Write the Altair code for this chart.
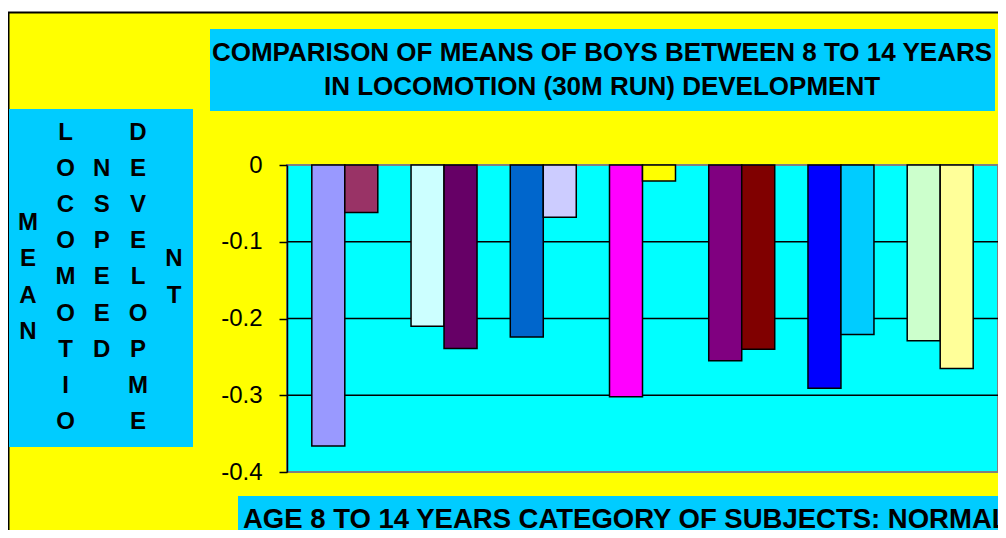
import altair as alt
import pandas as pd

# ---- data ----
ages = ["8", "9", "10", "11", "12", "13", "14"]
series = ["Series 1", "Series 2"]
values_s1 = [-0.366, -0.210, -0.224, -0.302, -0.255, -0.291, -0.229]
values_s2 = [-0.062, -0.239, -0.068, -0.021, -0.240, -0.221, -0.265]
colors_s1 = ["#9999FF", "#CCFFFF", "#0066CC", "#FF00FF", "#800080", "#0000FF", "#CCFFCC"]
colors_s2 = ["#993366", "#660066", "#CCCCFF", "#FFFF00", "#800000", "#00CCFF", "#FFFF99"]
tick_values = [0, -0.1, -0.2, -0.3, -0.4]
grid_values = [-0.1, -0.2, -0.3]

title_lines = ["COMPARISON OF MEANS OF BOYS BETWEEN 8 TO 14 YEARS",
               "IN LOCOMOTION (30M RUN) DEVELOPMENT"]
y_label_columns = ["MEAN", "LOCOMOTIO", "N SPEED", "DEVELOPME", "NT"]
x_label = "AGE 8 TO 14 YEARS CATEGORY OF SUBJECTS: NORMAL"

rows = []
bar_ids, bar_colors = [], []
for i, a in enumerate(ages):
    for s, vals, cols in ((series[0], values_s1, colors_s1), (series[1], values_s2, colors_s2)):
        bid = f"{a}-{s}"
        rows.append({"age": a, "series": s, "value": vals[i], "bar": bid})
        bar_ids.append(bid)
        bar_colors.append(cols[i])
df = pd.DataFrame(rows)
grid_df = pd.DataFrame({"g": grid_values})
one = pd.DataFrame({"k": [0]})

W, H = 711, 307
PL, PT, PR, PB = 279, 157, 0, 58
FONT = "Liberation Sans"

yscale = alt.Scale(domain=[-0.4, 0], nice=False)

deco = alt.Chart(one)

white_strip = deco.mark_rect(color="white").encode(
    x=alt.value(-PL), x2=alt.value(W + PR), y=alt.value(-PT), y2=alt.value(-153))
top_border = deco.mark_rule(color="black", strokeWidth=2).encode(
    x=alt.value(-PL), x2=alt.value(W + PR), y=alt.value(-152.5))
left_border = deco.mark_rule(color="black", strokeWidth=2).encode(
    x=alt.value(-278.5), y=alt.value(-153), y2=alt.value(H + PB))

title_box = deco.mark_rect(color="#00CCFF").encode(
    x=alt.value(-77), x2=alt.value(708), y=alt.value(-136), y2=alt.value(-54))
title1 = deco.mark_text(text=title_lines[0], font=FONT, fontWeight="bold", fontSize=26,
                        align="center", baseline="alphabetic", color="black").encode(
    x=alt.value(315), y=alt.value(-104))
title2 = deco.mark_text(text=title_lines[1], font=FONT, fontWeight="bold", fontSize=26,
                        align="center", baseline="alphabetic", color="black").encode(
    x=alt.value(315), y=alt.value(-70))

ylab_box = deco.mark_rect(color="#00CCFF").encode(
    x=alt.value(-278), x2=alt.value(-94), y=alt.value(-56), y2=alt.value(282))
col_x = [-259, -221.5, -185.3, -149, -113]
LH = 36.2
center_y = 112.5
ylab_texts = []
for cx, word in zip(col_x, y_label_columns):
    n = len(word)
    first_y = center_y - (n - 1) / 2 * LH
    ylab_texts.append(
        deco.mark_text(text="\n".join(word), lineBreak="\n", lineHeight=LH, font=FONT,
                       fontWeight="bold", fontSize=24, align="center", baseline="middle",
                       color="black").encode(x=alt.value(cx), y=alt.value(first_y)))

xlab_box = deco.mark_rect(color="#00CCFF").encode(
    x=alt.value(-49), x2=alt.value(W + PR), y=alt.value(331), y2=alt.value(H + PB))
xlab_text = deco.mark_text(text=x_label, font=FONT, fontWeight="bold", fontSize=27.5,
                           align="left", baseline="alphabetic", color="black").encode(
    x=alt.value(-44), y=alt.value(363))

grid = alt.Chart(grid_df).mark_rule(color="black", strokeWidth=1.5).encode(
    y=alt.Y("g:Q", scale=yscale))

bars = alt.Chart(df).mark_bar(stroke="black", strokeWidth=1.5).encode(
    x=alt.X("age:N", sort=ages, axis=None,
            scale=alt.Scale(paddingInner=0.335, paddingOuter=0.25)),
    xOffset=alt.XOffset("series:N", sort=series),
    y=alt.Y("value:Q", stack=None, scale=yscale,
            axis=alt.Axis(values=tick_values, title=None, grid=False,
                          domainColor="black", domainWidth=1.5,
                          tickColor="black", tickSize=8, tickWidth=1.5,
                          labelFont=FONT, labelFontSize=24, labelColor="black",
                          labelPadding=17,
                          labelExpr="datum.value == 0 ? '0' : '-' + format(abs(datum.value), '.1f')")),
    color=alt.Color("bar:N", scale=alt.Scale(domain=bar_ids, range=bar_colors), legend=None),
)

chart = alt.layer(
    white_strip, top_border, left_border, title_box, title1, title2,
    ylab_box, *ylab_texts, xlab_box, xlab_text, grid, bars
).properties(
    width=W, height=H,
    autosize=alt.AutoSizeParams(type="none"),
    padding={"left": PL, "top": PT, "right": PR, "bottom": PB},
    background="#FFFF00",
).configure_view(
    fill="#00FFFF", stroke="#808080", strokeWidth=2
)

chart.save("out.html", embed_options={"renderer": "svg", "actions": False})
